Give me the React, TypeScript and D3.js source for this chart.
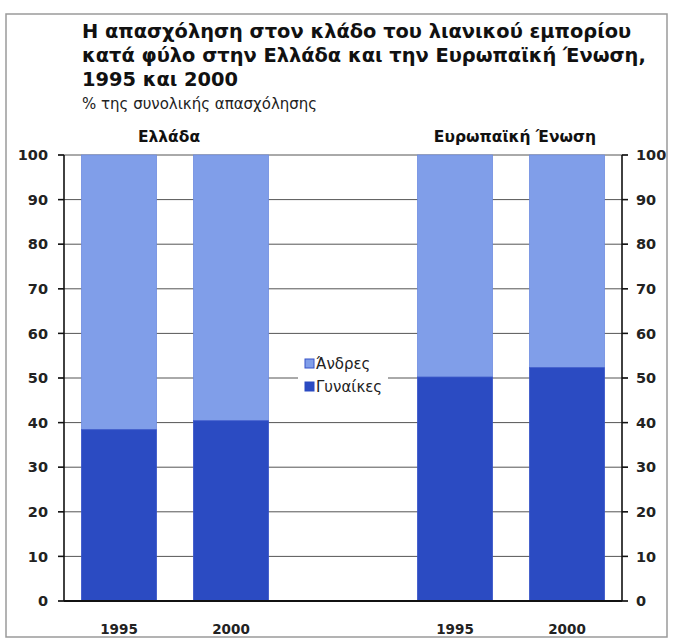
import React from "react";
import * as d3 from "d3";

const groups = ["Ελλάδα", "Ευρωπαϊκή Ένωση"];
const years = ["1995", "2000"];
const categories = ["GR-1995", "GR-2000", "gap", "EU-1995", "EU-2000"];
const women = [38.4, 40.4, 50.2, 52.3];
const men = women.map((w) => 100 - w);
const yTicks = [0, 10, 20, 30, 40, 50, 60, 70, 80, 90, 100];
const titleLines = [
  "Η απασχόληση στον κλάδο του λιανικού εμπορίου",
  "κατά φύλο στην Ελλάδα και την Ευρωπαϊκή Ένωση,",
  "1995 και 2000",
];
const subtitle = "% της συνολικής απασχόλησης";
const seriesNames = ["Άνδρες", "Γυναίκες"];

const W = 674;
const H = 642;
const left = 64;
const right = 622;
const top = 155;
const bottom = 601;
const DARK = "#2b4bc2";
const LIGHT = "#809ee9";
const FONT = "'DejaVu Sans', Verdana, sans-serif";

export default function App() {
  const y = d3.scaleLinear().domain([0, 100]).range([bottom, top]);
  const bandCats = ["GR-1995", "GR-2000", "EU-1995", "EU-2000"];
  const x = d3
    .scaleBand<string>()
    .domain(categories)
    .range([left, right])
    .paddingInner(0.33)
    .paddingOuter(0.156);
  const bars = bandCats.map((c, i) => ({
    key: c,
    x0: x(c)!,
    w: x.bandwidth(),
    women: women[i],
    men: men[i],
    year: years[i % 2],
  }));
  const groupCenters = [
    (x("GR-1995")! + x("GR-2000")! + x.bandwidth()) / 2 - 6,
    (x("EU-1995")! + x("EU-2000")! + x.bandwidth()) / 2 + 4,
  ];
  return (
    <svg
      width={W}
      height={H}
      style={{ position: "absolute", left: 0, top: 0, background: "#fff" }}
      fontFamily={FONT}
    >
      <rect x={6} y={14} width={661} height={623} fill="none" stroke="#9a9a9a" strokeWidth={1.5} />
      {titleLines.map((t, i) => (
        <text key={i} x={82} y={38 + i * 24} fontSize={19.4} fontWeight="bold" fill="#111">
          {t}
        </text>
      ))}
      <text x={82} y={109} fontSize={15} fill="#222">
        {subtitle}
      </text>
      {groups.map((g, i) => (
        <text key={g} x={groupCenters[i]} y={142} fontSize={15.5} fontWeight="bold" textAnchor="middle" fill="#111">
          {g}
        </text>
      ))}
      {/* gridlines */}
      {yTicks.map((t) => (
        <line key={"g" + t} x1={left - 6} x2={right + 6} y1={y(t)} y2={y(t)} stroke="#555" strokeWidth={1} />
      ))}
      {/* bars */}
      {bars.map((b) => (
        <g key={b.key}>
          <rect x={b.x0} y={y(100)} width={b.w} height={y(b.women) - y(100)} fill={LIGHT} stroke="#6f8de0" strokeWidth={0.8} />
          <rect x={b.x0} y={y(b.women)} width={b.w} height={y(0) - y(b.women)} fill={DARK} stroke="#3653c8" strokeWidth={0.8} />
          <text x={b.x0 + b.w / 2} y={634} fontSize={13.5} fontWeight="bold" textAnchor="middle" fill="#222">
            {b.year}
          </text>
        </g>
      ))}
      {/* axes */}
      <line x1={left} x2={left} y1={top} y2={bottom} stroke="#111" strokeWidth={1.6} />
      <line x1={right} x2={right} y1={top} y2={bottom} stroke="#111" strokeWidth={1.6} />
      <line x1={left} x2={right} y1={bottom} y2={bottom} stroke="#111" strokeWidth={1.8} />
      {yTicks.map((t) => (
        <g key={"t" + t}>
          <line x1={left - 6} x2={left} y1={y(t)} y2={y(t)} stroke="#111" strokeWidth={1.5} />
          <line x1={right} x2={right + 6} y1={y(t)} y2={y(t)} stroke="#111" strokeWidth={1.5} />
          <text x={48} y={y(t)} dy="0.36em" fontSize={14.5} fontWeight="bold" textAnchor="end" fill="#222">
            {t}
          </text>
          <text x={636} y={y(t)} dy="0.36em" fontSize={14.5} fontWeight="bold" textAnchor="start" fill="#222">
            {t}
          </text>
        </g>
      ))}
      {/* legend */}
      <rect x={298} y={348} width={90} height={52} fill="#fff" />
      {seriesNames.map((s, i) => (
        <g key={s} transform={`translate(305, ${359 + i * 23})`}>
          <rect x={0} y={0} width={9} height={9} fill={i === 0 ? LIGHT : DARK} stroke={i === 0 ? "#3653c8" : DARK} strokeWidth={1} />
          <text x={11} y={10} fontSize={15} fill="#222">
            {s}
          </text>
        </g>
      ))}
    </svg>
  );
}
